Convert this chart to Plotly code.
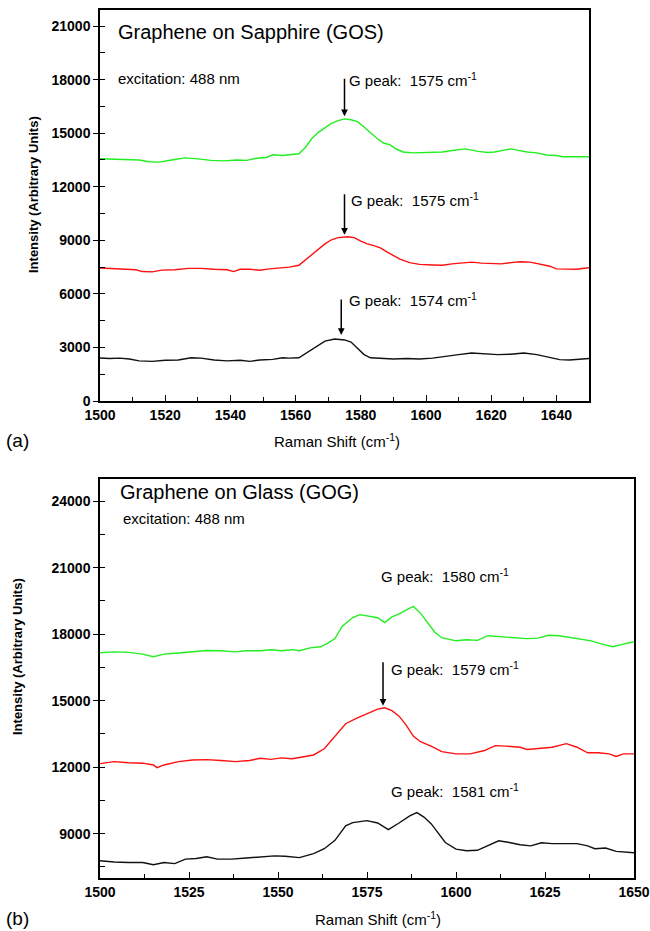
import plotly.graph_objects as go

W, H = 650, 931

# ---------------- Data: (a) Graphene on Sapphire ----------------
gos_green_x = [1500, 1504, 1508, 1512, 1515, 1518, 1522, 1526, 1530, 1534, 1538, 1542, 1545, 1548,
               1551, 1553, 1556, 1559, 1561, 1563, 1565, 1567, 1569, 1571, 1573, 1575, 1577, 1579,
               1581, 1583, 1585, 1587, 1589, 1591, 1593, 1596, 1599, 1602, 1605, 1608, 1610, 1612,
               1614, 1616, 1619, 1621, 1624, 1626, 1628, 1631, 1634, 1637, 1640, 1642, 1645, 1650]
gos_green_y = [13570, 13560, 13540, 13500, 13400, 13380, 13500, 13620, 13560, 13480, 13450, 13500, 13480, 13600,
               13640, 13790, 13750, 13830, 13850, 14200, 14700, 15050, 15300, 15550, 15700, 15800, 15750, 15650,
               15350, 15000, 14700, 14450, 14350, 14100, 13950, 13900, 13920, 13950, 13950, 14030, 14080, 14120,
               14050, 13980, 13920, 13950, 14050, 14120, 14050, 13950, 13900, 13780, 13750, 13680, 13680, 13680]

gos_red_x = [1500, 1504, 1508, 1511, 1513, 1516, 1519, 1523, 1527, 1531, 1535, 1539, 1541, 1543,
             1546, 1549, 1552, 1555, 1558, 1561, 1563, 1566, 1569, 1571, 1573, 1576, 1578, 1580,
             1582, 1584, 1586, 1588, 1590, 1592, 1595, 1598, 1602, 1605, 1608, 1611, 1614, 1617,
             1620, 1623, 1626, 1629, 1632, 1635, 1638, 1640, 1643, 1646, 1650]
gos_red_y = [7450, 7420, 7400, 7350, 7250, 7230, 7330, 7350, 7430, 7430, 7380, 7350, 7250, 7380,
             7380, 7320, 7400, 7450, 7500, 7600, 7900, 8400, 8800, 9030, 9150, 9200, 9150, 8950,
             8800, 8700, 8580, 8350, 8150, 7950, 7750, 7650, 7620, 7600, 7680, 7750, 7780, 7720,
             7700, 7680, 7750, 7800, 7780, 7650, 7550, 7400, 7370, 7380, 7460]

gos_black_x = [1500, 1503, 1506, 1509, 1512, 1516, 1520, 1524, 1528, 1531, 1535, 1539, 1543, 1546,
               1549, 1553, 1556, 1558, 1561, 1563, 1566, 1569, 1572, 1575, 1577, 1579, 1581, 1583,
               1586, 1590, 1594, 1598, 1602, 1606, 1610, 1614, 1618, 1622, 1626, 1630, 1634, 1638,
               1641, 1644, 1647, 1650]
gos_black_y = [2410, 2380, 2400, 2350, 2250, 2220, 2280, 2300, 2420, 2400, 2300, 2250, 2280, 2220,
               2300, 2330, 2420, 2400, 2420, 2650, 3030, 3350, 3470, 3420, 3300, 2950, 2600, 2420,
               2400, 2350, 2380, 2350, 2400, 2480, 2600, 2690, 2650, 2600, 2620, 2690, 2600, 2430,
               2320, 2300, 2350, 2380]

# ---------------- Data: (b) Graphene on Glass ----------------
gog_green_x = [1500, 1504, 1508, 1512, 1515, 1518, 1522, 1526, 1530, 1534, 1538, 1541, 1545, 1548,
               1551, 1554, 1556, 1559, 1562, 1564, 1566, 1568, 1571, 1573, 1576, 1578, 1580, 1582,
               1584, 1586, 1588, 1590, 1592, 1594, 1596, 1598, 1600, 1603, 1606, 1609, 1612, 1616,
               1620, 1623, 1626, 1629, 1632, 1635, 1638, 1641, 1644, 1647, 1650]
gog_green_y = [17160, 17200, 17180, 17100, 16980, 17100, 17150, 17220, 17260, 17250, 17200, 17250, 17250, 17300,
               17250, 17300, 17250, 17380, 17430, 17600, 17800, 18350, 18750, 18880, 18800, 18740, 18520, 18780,
               18920, 19100, 19250, 18950, 18520, 18100, 17840, 17780, 17700, 17750, 17720, 17930, 17900, 17850,
               17800, 17820, 17950, 17930, 17850, 17800, 17700, 17550, 17430, 17550, 17660]

gog_red_x = [1500, 1504, 1508, 1512, 1515, 1516, 1518, 1522, 1526, 1530, 1534, 1538, 1542, 1545,
             1548, 1551, 1554, 1557, 1560, 1563, 1566, 1569, 1572, 1575, 1578, 1580, 1582, 1584,
             1586, 1588, 1590, 1593, 1596, 1600, 1604, 1608, 1611, 1614, 1618, 1620, 1623, 1627,
             1631, 1634, 1637, 1640, 1643, 1645, 1647, 1650]
gog_red_y = [12160, 12250, 12200, 12180, 12100, 11980, 12100, 12250, 12320, 12340, 12300, 12250, 12300, 12400,
             12350, 12420, 12380, 12450, 12550, 12830, 13400, 13960, 14200, 14400, 14620, 14680, 14550, 14300,
             13900, 13400, 13150, 12950, 12700, 12600, 12600, 12750, 12970, 12950, 12900, 12800, 12830, 12900,
             13060, 12900, 12650, 12650, 12600, 12480, 12600, 12600]

gog_black_x = [1500, 1504, 1508, 1512, 1515, 1518, 1521, 1524, 1527, 1530, 1533, 1537, 1541, 1545,
               1549, 1552, 1556, 1560, 1563, 1566, 1569, 1571, 1575, 1578, 1581, 1584, 1587, 1589,
               1591, 1593, 1595, 1597, 1600, 1603, 1606, 1609, 1612, 1615, 1618, 1621, 1624, 1627,
               1630, 1634, 1637, 1639, 1642, 1645, 1650]
gog_black_y = [7780, 7720, 7700, 7700, 7600, 7700, 7650, 7850, 7880, 7960, 7850, 7850, 7900, 7950,
               8000, 7980, 7920, 8100, 8320, 8700, 9350, 9500, 9590, 9480, 9180, 9480, 9800, 9950,
               9750, 9450, 9050, 8600, 8300, 8230, 8250, 8450, 8680, 8600, 8500, 8450, 8590, 8550,
               8560, 8550, 8450, 8320, 8350, 8200, 8140]

# ranges
a_xrange = [1500, 1650]
a_yrange = [0, 21900]
b_xrange = [1500, 1650]
b_yrange = [7000, 25000]

GREEN = "#22ee22"
RED = "#ff1010"
BLACK = "#111111"
FONT = "Liberation Sans"


def px(p):
    return p / W


def py(p):
    return 1 - p / H


fig = go.Figure()
for xs, ys, c in [(gos_green_x, gos_green_y, GREEN), (gos_red_x, gos_red_y, RED),
                  (gos_black_x, gos_black_y, BLACK)]:
    fig.add_trace(go.Scatter(x=xs, y=ys, mode="lines", line=dict(color=c, width=1.4),
                             xaxis="x", yaxis="y", showlegend=False, hoverinfo="skip"))
for xs, ys, c in [(gog_green_x, gog_green_y, GREEN), (gog_red_x, gog_red_y, RED),
                  (gog_black_x, gog_black_y, BLACK)]:
    fig.add_trace(go.Scatter(x=xs, y=ys, mode="lines", line=dict(color=c, width=1.4),
                             xaxis="x2", yaxis="y2", showlegend=False, hoverinfo="skip"))

tickfont = dict(family=FONT, size=14, color="black", weight="bold")
common_axis = dict(showline=True, linecolor="black", linewidth=1.5, mirror=True, automargin=False,
                   showgrid=False, zeroline=False, tickfont=tickfont, tickcolor="black",
                   tickformat="d")

fig.update_layout(
    width=W, height=H,
    margin=dict(l=0, r=0, t=0, b=0, autoexpand=False),
    paper_bgcolor="white", plot_bgcolor="white",
    xaxis=dict(domain=[px(100), px(589)], range=a_xrange, anchor="y", tick0=1500, dtick=20,
               ticks="inside", ticklen=6, minor=dict(dtick=10, ticks="inside", ticklen=4, tickcolor="black"),
               **common_axis),
    yaxis=dict(domain=[py(401), py(10)], range=a_yrange, anchor="x", tick0=0, dtick=3000,
               ticks="outside", ticklen=5, minor=dict(dtick=1500, ticks="inside", ticklen=5, tickcolor="black"),
               **common_axis),
    xaxis2=dict(domain=[px(100), px(634)], range=b_xrange, anchor="y2", tick0=1500, dtick=25,
                ticks="inside", ticklen=6, minor=dict(dtick=12.5, ticks="inside", ticklen=4, tickcolor="black"),
                **common_axis),
    yaxis2=dict(domain=[py(878), py(479)], range=b_yrange, anchor="x2", tick0=9000, dtick=3000,
                ticks="outside", ticklen=5, minor=dict(dtick=1500, ticks="inside", ticklen=5, tickcolor="black"),
                **common_axis),
)

ann = []
txt = dict(family=FONT, color="black")

# panel titles
ann.append(dict(x=1505, y=20690, xref="x", yref="y", text="Graphene on Sapphire (GOS)",
                showarrow=False, xanchor="left", yanchor="middle", font=dict(size=20, **txt)))
ann.append(dict(x=1505, y=18050, xref="x", yref="y", text="excitation: 488 nm",
                showarrow=False, xanchor="left", yanchor="middle", font=dict(size=15, **txt)))
ann.append(dict(x=1505, y=24400, xref="x2", yref="y2", text="Graphene on Glass (GOG)",
                showarrow=False, xanchor="left", yanchor="middle", font=dict(size=20, **txt)))
ann.append(dict(x=1506, y=23200, xref="x2", yref="y2", text="excitation: 488 nm",
                showarrow=False, xanchor="left", yanchor="middle", font=dict(size=15, **txt)))

# peak labels
peak_labels = [
    ("x", "y", 1575.8, 18000, "G peak:  1575 cm<sup>-1</sup>"),
    ("x", "y", 1576.3, 11270, "G peak:  1575 cm<sup>-1</sup>"),
    ("x", "y", 1575.8, 5660, "G peak:  1574 cm<sup>-1</sup>"),
    ("x2", "y2", 1578.5, 20640, "G peak:  1580 cm<sup>-1</sup>"),
    ("x2", "y2", 1581.3, 16440, "G peak:  1579 cm<sup>-1</sup>"),
    ("x2", "y2", 1581.3, 10940, "G peak:  1581 cm<sup>-1</sup>"),
]
for xr, yr, x, y, t in peak_labels:
    ann.append(dict(x=x, y=y, xref=xr, yref=yr, text=t, showarrow=False, xanchor="left",
                    yanchor="middle", font=dict(size=15, **txt)))

# arrows
arrows = [
    ("x", "y", 1575, 15950, -39),
    ("x", "y", 1575, 9310, -42),
    ("x", "y", 1574, 3700, -37),
    ("x2", "y2", 1579.5, 14770, -45),
]
for xr, yr, x, y, ay in arrows:
    ann.append(dict(x=x, y=y, xref=xr, yref=yr, text="", showarrow=True, ax=0, ay=ay,
                    axref="pixel", ayref="pixel", arrowhead=2, arrowsize=0.9, arrowwidth=1.5,
                    arrowcolor="black"))

# axis titles and panel letters
ann.append(dict(x=px(337), y=py(440), xref="paper", yref="paper", text="Raman Shift (cm<sup>-1</sup>)",
                showarrow=False, xanchor="center", yanchor="middle", font=dict(size=15, **txt)))
ann.append(dict(x=px(378), y=py(918), xref="paper", yref="paper", text="Raman Shift (cm<sup>-1</sup>)",
                showarrow=False, xanchor="center", yanchor="middle", font=dict(size=15, **txt)))
ann.append(dict(x=px(4), y=py(440), xref="paper", yref="paper", text="(a)",
                showarrow=False, xanchor="left", yanchor="middle", font=dict(size=19, **txt)))
ann.append(dict(x=px(4), y=py(918), xref="paper", yref="paper", text="(b)",
                showarrow=False, xanchor="left", yanchor="middle", font=dict(size=19, **txt)))
ann.append(dict(x=px(33), y=py(195), xref="paper", yref="paper", text="Intensity (Arbitrary Units)",
                showarrow=False, textangle=-90, xanchor="center", yanchor="middle",
                font=dict(size=13, weight="bold", **txt)))
ann.append(dict(x=px(17), y=py(657), xref="paper", yref="paper", text="Intensity (Arbitrary Units)",
                showarrow=False, textangle=-90, xanchor="center", yanchor="middle",
                font=dict(size=13, weight="bold", **txt)))

fig.update_layout(annotations=ann)
fig.write_html(
    "out.html",
    config={"displayModeBar": False},
    post_script="document.body.style.margin='0';document.body.style.overflow='hidden';",
)
